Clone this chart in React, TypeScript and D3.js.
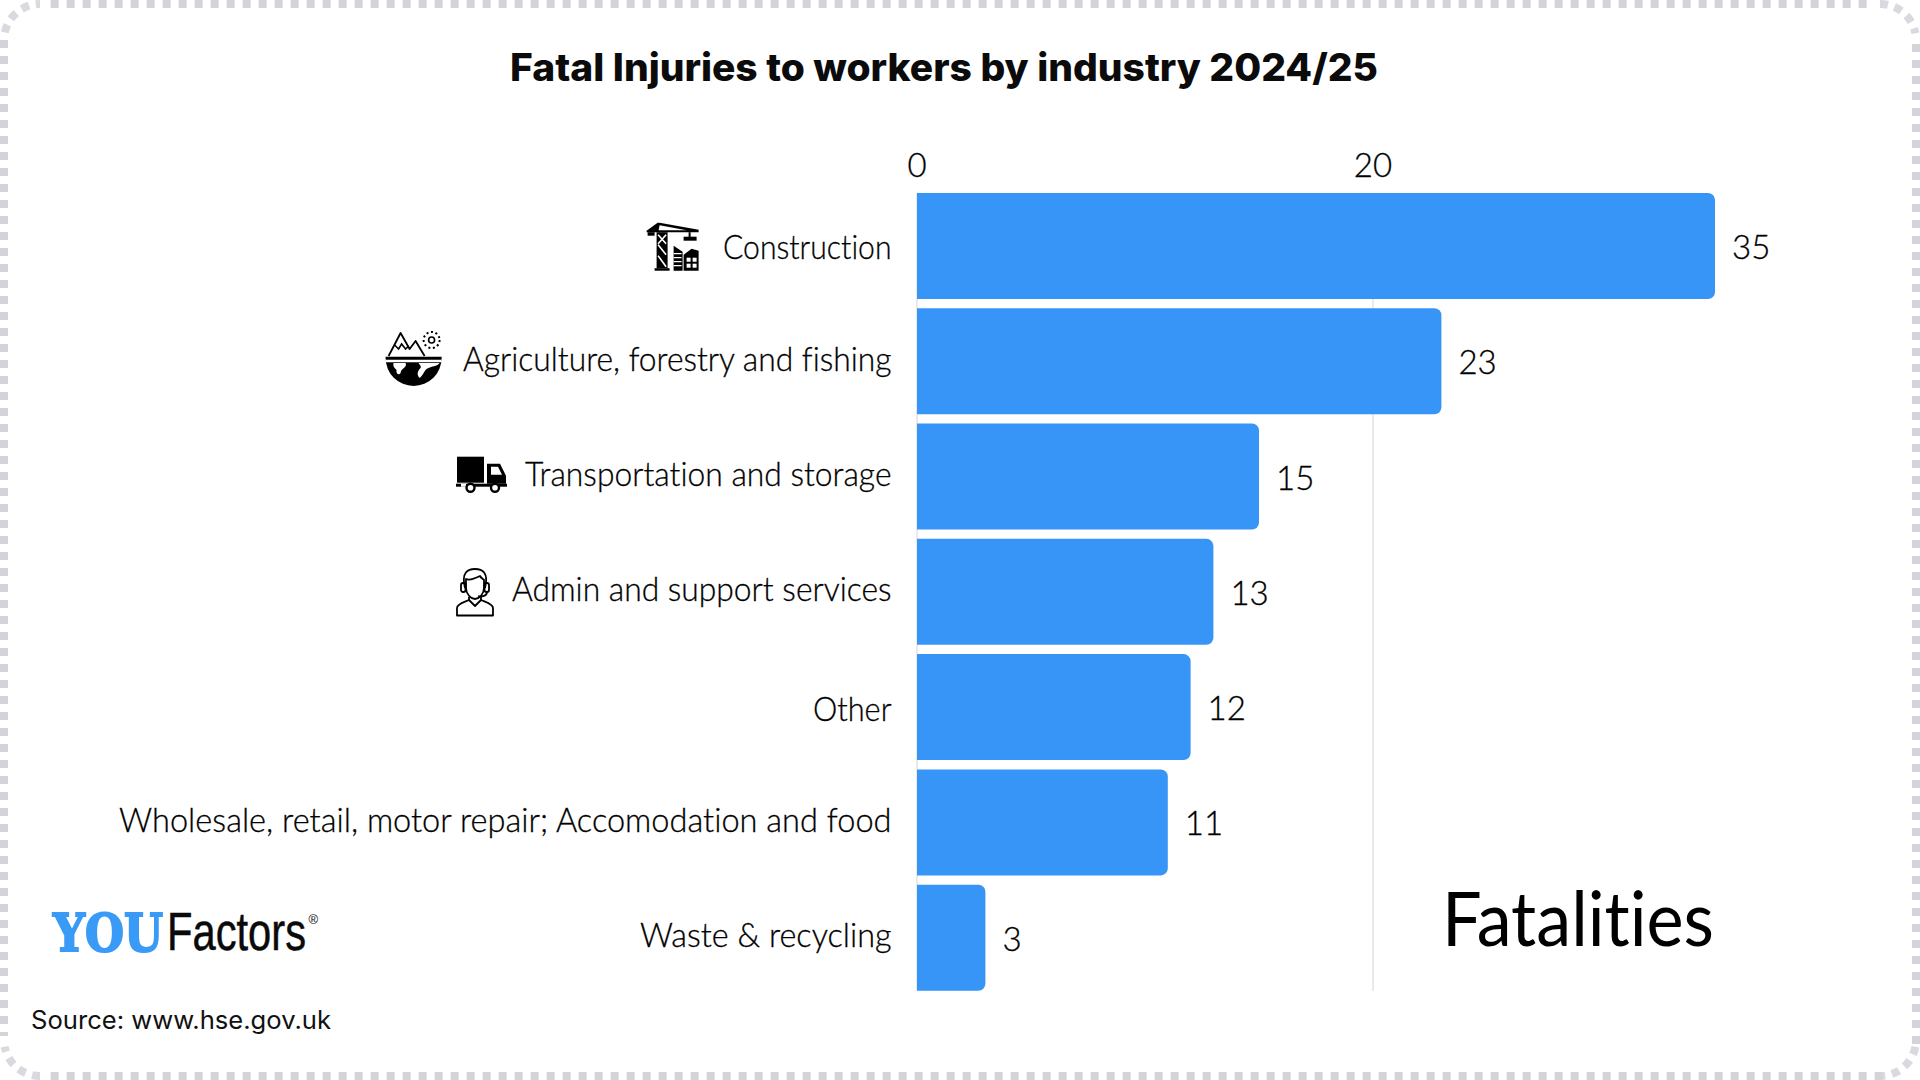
import React, { useLayoutEffect, useRef } from "react";
import * as d3 from "d3";

const categories = [
  "Construction",
  "Agriculture, forestry and fishing",
  "Transportation and storage",
  "Admin and support services",
  "Other",
  "Wholesale, retail, motor repair; Accomodation and food",
  "Waste & recycling",
];
const fatalities = [35, 23, 15, 13, 12, 11, 3];
const xTickValues = [0, 20];

const labelWidths = [168.5, 428.5, 366.5, 379.5, 78.5, 772.5, 251.5];
const labelBaselineOffsets = [13, 9.7, 9.5, 9, 13.7, 9.5, 9.7];

const WIDTH = 1920;
const HEIGHT = 1080;
const BLUE = "#3795F7";
const BORDER = "#d2d4d9";
const FUTURA = "Lato, 'Noto Sans', sans-serif";
const NO_LIG: React.CSSProperties = { fontVariantLigatures: "none" };

const x = d3.scaleLinear().domain([0, 20]).range([917, 1373]);
const y = d3
  .scaleBand<string>()
  .domain(categories)
  .range([188.36, 995.32])
  .paddingInner(0.0805)
  .paddingOuter(0.04025);

function barPath(x0: number, x1: number, top: number, h: number, r: number) {
  const p = d3.path();
  p.moveTo(x0, top);
  p.lineTo(x1 - r, top);
  p.arcTo(x1, top, x1, top + r, r);
  p.lineTo(x1, top + h - r);
  p.arcTo(x1, top + h, x1 - r, top + h, r);
  p.lineTo(x0, top + h);
  p.closePath();
  return p.toString();
}

function cornerArc(cx: number, cy: number, r: number, a0: number, a1: number) {
  const p = d3.path();
  p.arc(cx, cy, r, a0, a1, false);
  return p.toString();
}

function FitText(props: { left: number; base: number; width: number; children: string } & React.SVGProps<SVGTextElement>) {
  const { left, base, width, children, ...rest } = props;
  const ref = useRef<SVGTextElement>(null);
  useLayoutEffect(() => {
    const el = ref.current;
    if (!el) return;
    const fit = () => {
      const natural = el.getComputedTextLength();
      el.setAttribute("transform", `translate(${left},${base}) scale(${width / natural},1)`);
    };
    fit();
    if (document.fonts && document.fonts.ready) document.fonts.ready.then(fit);
  }, [left, base, width]);
  return (
    <text ref={ref} transform={`translate(${left},${base})`} {...rest}>
      {children}
    </text>
  );
}

function DashedFrame() {
  const common = { stroke: BORDER, strokeWidth: 8, fill: "none" };
  const dash = "8 8";
  const R = 36;
  return (
    <g>
      <line x1={50.7} x2={1872} y1={4} y2={4} strokeDasharray={dash} {...common} />
      <line x1={50.7} x2={1884} y1={1076} y2={1076} strokeDasharray={dash} {...common} />
      <line x1={4} x2={4} y1={40} y2={1036} strokeDasharray={dash} {...common} />
      <line x1={1916} x2={1916} y1={44} y2={1044} strokeDasharray={dash} {...common} />
      <g strokeOpacity={0.85}>
        <path d={cornerArc(40, 40, R, Math.PI * 1.06, Math.PI * 1.5)} strokeDasharray="8 6.8" strokeDashoffset={-1} {...common} />
        <path d={cornerArc(1880, 40, R, Math.PI * 1.5, Math.PI * 1.94)} strokeDasharray="8 6.8" {...common} />
        <path d={cornerArc(1880, 1040, R, Math.PI * 0.06, Math.PI * 0.5)} strokeDasharray="8 6.8" {...common} />
        <path d={cornerArc(40, 1040, R, Math.PI * 0.5, Math.PI * 0.94)} strokeDasharray="8 6.8" {...common} />
      </g>
    </g>
  );
}

function CraneIcon() {
  return (
    <g transform="translate(646.6,222.7)">
      <path d="M0 8 L11 0 L13 0 L52 7 L52 9.5 L0 9.5Z" fill="#000" />
      <path d="M13 2.5 L12 7.5 L40 7.5Z" fill="#fff" />
      <rect x={1} y={9.5} width={7} height={3.5} fill="#000" />
      <rect x={42} y={9.5} width={2} height={5} fill="#000" />
      <rect x={37} y={14} width={13} height={4} fill="#000" />
      <rect x={10} y={9.5} width={11} height={36} fill="#000" />
      <path d="M11.5 12 L19.5 21 M19.5 12 L11.5 21 M11.5 22 L19.5 32 M11.5 33 L19.5 44" stroke="#fff" strokeWidth={1.6} />
      <rect x={8} y={45.5} width={15} height={2.5} fill="#000" />
      <path d="M27 23 L36 29 L36 48 L27 48Z" fill="#000" />
      <path d="M27 31 h8 M27 35 h8 M27 39 h8 M27 43 h8" stroke="#fff" strokeWidth={1.3} />
      <path d="M37 32 L45 26 L52 28 L52 48 L37 48Z" fill="#000" />
      <rect x={40} y={35} width={4} height={4} fill="#fff" />
      <rect x={46} y={35} width={4} height={4} fill="#fff" />
      <rect x={40} y={41} width={4} height={4} fill="#fff" />
      <rect x={46} y={41} width={4} height={4} fill="#fff" />
    </g>
  );
}

function EarthIcon() {
  return (
    <g transform="translate(385.6,330)">
      <path d="M0 28 H56 A28 28 0 0 1 0 28Z" fill="#000" />
      <path d="M0 31 H56" stroke="#fff" strokeWidth={2.4} />
      <path d="M0 27.5 H56" stroke="#000" strokeWidth={1.6} />
      <path d="M3 26 L15 3 L24 19 L30 11 L39 26" fill="#fff" stroke="#000" strokeWidth={1.8} strokeLinejoin="round" />
      <path d="M9 15 L13 19 L16 14 L20 19 L23 16" fill="none" stroke="#000" strokeWidth={1.6} />
      <path d="M8 33 H20 C22 38 15 38 15 43 C13 46 10 43 11 40 C9 38 7 36 8 33Z" fill="#fff" />
      <path d="M33 33 H54 C51 37 46 36 43 38 C38 40 39 44 34 48 C30 44 33 40 35 38 C36 36 34 35 33 33Z" fill="#fff" />
      <circle cx={46} cy={10} r={3} fill="none" stroke="#000" strokeWidth={1.6} />
      <circle cx={46} cy={10} r={8} fill="none" stroke="#000" strokeWidth={2} strokeDasharray="2 2.6" />
    </g>
  );
}

function TruckIcon() {
  return (
    <g transform="translate(456,456.7)">
      <rect x={1} y={0} width={27} height={26} fill="#000" />
      <path d="M31 7 H44 L50 19 V27 H31Z" fill="#000" />
      <path d="M35 10 H42 L46 18 H35Z" fill="#fff" />
      <rect x={0} y={27} width={51} height={3} fill="#000" />
      <rect x={5} y={27} width={5} height={3} fill="#fff" />
      <circle cx={14.5} cy={31} r={4} fill="#fff" stroke="#000" strokeWidth={2.4} />
      <circle cx={39} cy={31} r={4} fill="#fff" stroke="#000" strokeWidth={2.4} />
    </g>
  );
}

function AgentIcon() {
  return (
    <g transform="translate(456,568)" fill="none" stroke="#000" strokeWidth={1.8} strokeLinejoin="round">
      <path d="M9 20 C5 4 12 1 19 1 C26 1 33 4 29 20" />
      <path d="M10 11 C14 13 22 9 24 8 C25 10 27 11 28 12 V20 C28 26 23 31 19 31 C15 31 10 26 10 20Z" />
      <rect x={5} y={15} width={4.5} height={9} rx={2} />
      <rect x={28.5} y={15} width={4.5} height={9} rx={2} />
      <path d="M31 24 C31 28 26 29 22 28" />
      <path d="M1 47.5 V40 C1 36 9 34 13 32 L19 38 L25 32 C29 34 37 36 37 40 V47.5Z" />
      <path d="M13 32 V29 M25 32 V29" />
    </g>
  );
}

export default function App() {
  const gridBottom = (y(categories[6]) as number) + y.bandwidth();
  const gridTop = y(categories[0]) as number;
  return (
    <svg
      width={WIDTH}
      height={HEIGHT}
      viewBox={`0 0 ${WIDTH} ${HEIGHT}`}
      style={{ position: "absolute", left: 0, top: 0, display: "block", background: "#fff" }}
    >
      <DashedFrame />

      <text x={510} y={81} fontFamily="Inter, sans-serif" fontWeight={800} fontSize={38} fill="#0b0b0b" textLength={868} lengthAdjust="spacingAndGlyphs">
        Fatal Injuries to workers by industry 2024/25
      </text>

      {xTickValues.map((t) => (
        <g key={t}>
          <line x1={x(t)} x2={x(t)} y1={gridTop} y2={gridBottom} stroke="#dcdcdc" strokeWidth={1.2} />
          <text x={x(t)} y={176.7} textAnchor="middle" fontFamily={FUTURA} fontWeight={300} fontSize={33} fill="#000" stroke="#000" strokeWidth={0.3}>
            {t}
          </text>
        </g>
      ))}

      {categories.map((c, i) => {
        const top = y(c) as number;
        const cy = top + y.bandwidth() / 2;
        return (
          <g key={c}>
            <path d={barPath(x(0), x(fatalities[i]), top, y.bandwidth(), 7)} fill={BLUE} />
            <text x={891.5} y={cy + labelBaselineOffsets[i]} textAnchor="end" fontFamily={FUTURA} fontWeight={300} fontSize={33} fill="#000" stroke="#000" strokeWidth={0.3} textLength={labelWidths[i]} lengthAdjust="spacingAndGlyphs" style={NO_LIG}>
              {c}
            </text>
            <text x={x(fatalities[i]) + 17} y={cy + 13} fontFamily={FUTURA} fontWeight={300} fontSize={33} fill="#000" stroke="#000" strokeWidth={0.3}>
              {fatalities[i]}
            </text>
          </g>
        );
      })}

      <CraneIcon />
      <EarthIcon />
      <TruckIcon />
      <AgentIcon />

      <text x={1442} y={946} fontFamily={FUTURA} fontWeight={400} fontSize={76} fill="#000" textLength={272} lengthAdjust="spacingAndGlyphs" style={NO_LIG}>
        Fatalities
      </text>

      <FitText left={53} base={951} width={110} fontFamily="'DejaVu Serif', serif" fontWeight={700} fontSize={53} fill="#3A9BF6" stroke="#3A9BF6" strokeWidth={2}>
        YOU
      </FitText>
      <FitText left={167} base={950} width={139} fontFamily="'Liberation Sans Narrow', 'Liberation Sans', sans-serif" fontSize={54} fill="#0a0a0a" stroke="#0a0a0a" strokeWidth={0.5}>
        Factors
      </FitText>
      <text x={308.5} y={924} fontFamily="'Liberation Sans', sans-serif" fontSize={13} fill="#0a0a0a">
        ®
      </text>

      <text x={31} y={1029.3} fontFamily="Inter, sans-serif" fontSize={25} fill="#111" textLength={300} lengthAdjust="spacingAndGlyphs">
        Source: www.hse.gov.uk
      </text>
    </svg>
  );
}
